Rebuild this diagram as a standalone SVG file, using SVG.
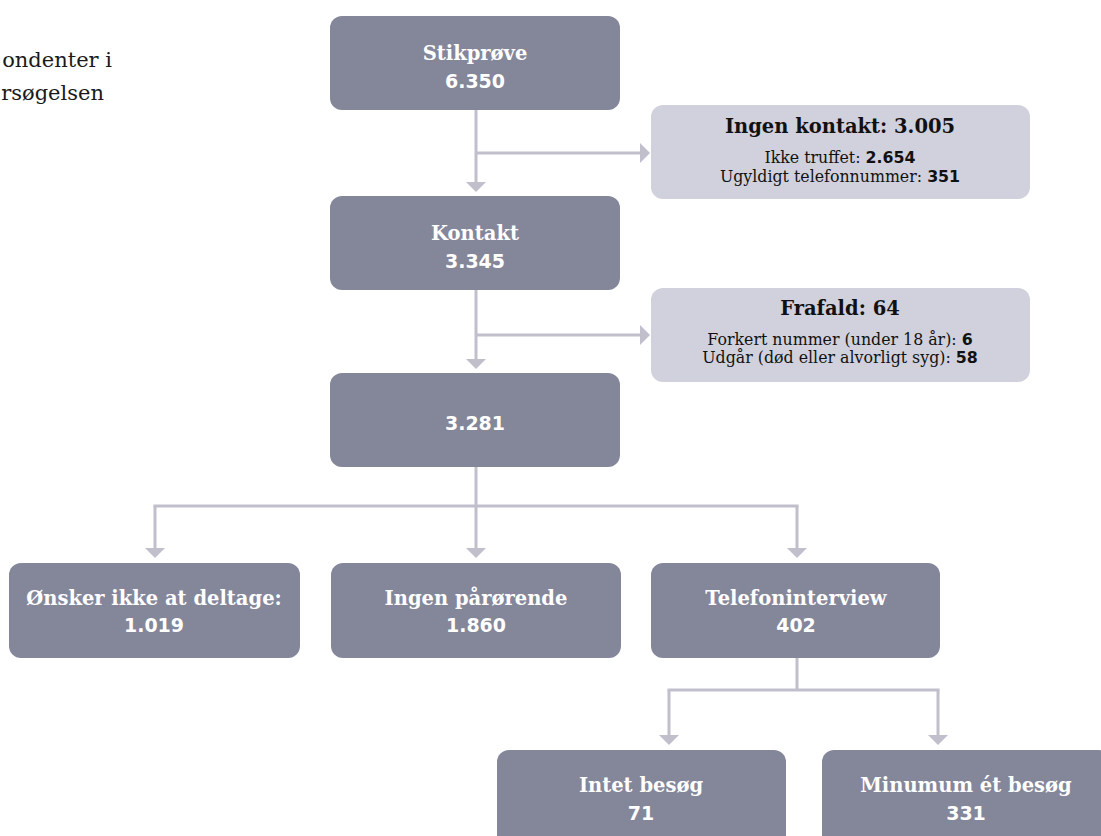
<svg xmlns="http://www.w3.org/2000/svg" width="1101" height="836" viewBox="0 0 1101 836">
<style>
.box{fill:#84869a}
.gbox{fill:#d1d1dd}
.conn{fill:none;stroke:#c0bfcb;stroke-width:3}
.t{font-family:"DejaVu Serif","Liberation Serif",serif;font-weight:bold;font-size:19.5px;fill:#ffffff;text-anchor:middle}
.n{font-family:"DejaVu Sans","Liberation Sans",sans-serif;font-weight:bold;font-size:19px;fill:#ffffff;text-anchor:middle}
.gt{font-family:"DejaVu Serif","Liberation Serif",serif;font-weight:bold;font-size:19.5px;fill:#111111;text-anchor:middle}
.gs{font-family:"DejaVu Serif","Liberation Serif",serif;font-size:15.8px;fill:#111111;text-anchor:middle}
.gb{font-family:"DejaVu Sans","Liberation Sans",sans-serif;font-weight:bold}
.side{font-family:"DejaVu Serif","Liberation Serif",serif;font-size:21px;fill:#1a1a1a;text-anchor:end}
</style>
<defs>
<marker id="ah" viewBox="0 0 10 20" refX="0" refY="10" markerWidth="10" markerHeight="20" markerUnits="userSpaceOnUse" orient="auto">
<path d="M0,0 L10,10 L0,20 z" fill="#c0bfcb"/>
</marker>
</defs>

<g id="side-text">
<text class="side" x="112" y="67">ondenter i</text>
<text class="side" x="104" y="100">rsøgelsen</text>
</g>

<g id="connectors">
<path class="conn" d="M476,110 V182" marker-end="url(#ah)"/>
<path class="conn" d="M476,153 H640" marker-end="url(#ah)"/>
<path class="conn" d="M476,290 V359" marker-end="url(#ah)"/>
<path class="conn" d="M476,335 H640" marker-end="url(#ah)"/>
<path class="conn" d="M476,467 V506"/>
<path class="conn" d="M153.5,506 H798.5"/>
<path class="conn" d="M155,506 V548" marker-end="url(#ah)"/>
<path class="conn" d="M476,506 V548" marker-end="url(#ah)"/>
<path class="conn" d="M797,506 V548" marker-end="url(#ah)"/>
<path class="conn" d="M797,658 V690"/>
<path class="conn" d="M667.5,690 H939.5"/>
<path class="conn" d="M669,690 V735" marker-end="url(#ah)"/>
<path class="conn" d="M938,690 V735" marker-end="url(#ah)"/>
</g>

<g id="stikproeve">
<rect class="box" x="330" y="16" width="290" height="94" rx="12"/>
<text class="t" x="475" y="60">Stikprøve</text>
<text class="n" x="475" y="88">6.350</text>
</g>

<g id="ingen-kontakt">
<rect class="gbox" x="651" y="105" width="379" height="94" rx="12"/>
<text class="gt" x="840" y="133">Ingen kontakt: 3.005</text>
<text class="gs" x="840" y="163">Ikke truffet: <tspan class="gb">2.654</tspan></text>
<text class="gs" x="840" y="182">Ugyldigt telefonnummer: <tspan class="gb">351</tspan></text>
</g>

<g id="kontakt">
<rect class="box" x="330" y="196" width="290" height="94" rx="12"/>
<text class="t" x="475" y="240">Kontakt</text>
<text class="n" x="475" y="268">3.345</text>
</g>

<g id="frafald">
<rect class="gbox" x="651" y="288" width="379" height="94" rx="12"/>
<text class="gt" x="840" y="315">Frafald: 64</text>
<text class="gs" x="840" y="345">Forkert nummer (under 18 år): <tspan class="gb">6</tspan></text>
<text class="gs" x="840" y="363">Udgår (død eller alvorligt syg): <tspan class="gb">58</tspan></text>
</g>

<g id="n3281">
<rect class="box" x="330" y="373" width="290" height="94" rx="12"/>
<text class="n" x="475" y="430">3.281</text>
</g>

<g id="oensker">
<rect class="box" x="9" y="563" width="291" height="95" rx="12"/>
<text class="t" x="154" y="605">Ønsker ikke at deltage:</text>
<text class="n" x="154" y="632">1.019</text>
</g>

<g id="ingen-paaroerende">
<rect class="box" x="331" y="563" width="290" height="95" rx="12"/>
<text class="t" x="476" y="605">Ingen pårørende</text>
<text class="n" x="476" y="632">1.860</text>
</g>

<g id="telefoninterview">
<rect class="box" x="651" y="563" width="289" height="95" rx="12"/>
<text class="t" x="796" y="605">Telefoninterview</text>
<text class="n" x="796" y="632">402</text>
</g>

<g id="intet-besoeg">
<rect class="box" x="497" y="750" width="289" height="100" rx="12"/>
<text class="t" x="641" y="792">Intet besøg</text>
<text class="n" x="641" y="820">71</text>
</g>

<g id="minimum-et-besoeg">
<rect class="box" x="822" y="750" width="288" height="100" rx="12"/>
<text class="t" x="966" y="792">Minumum ét besøg</text>
<text class="n" x="966" y="820">331</text>
</g>
</svg>
